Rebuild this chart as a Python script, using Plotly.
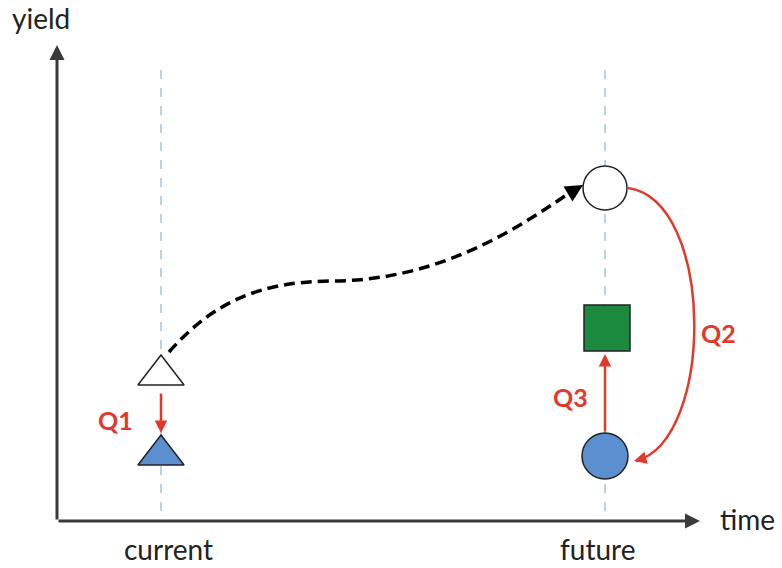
import plotly.graph_objects as go

# Schematic coordinates (pixel-like units; y grows downward)
time_labels = ["current", "future"]
time_pos = [161, 605]
label_pos = [168, 597]

# markers
open_tri = {"x": [161], "y": [375]}
blue_tri = {"x": [161], "y": [455]}
open_circ = {"x": [605], "y": [188]}
green_sq = {"x": [607], "y": [328]}
blue_circ = {"x": [605], "y": [456]}

RED = "#e3392d"
BLUE = "#5b8fd0"
GREEN = "#1b8a3e"
AX = "#3a3a3a"
FONT = "Lato"

fig = go.Figure()

# dashed guide lines
for xp in time_pos:
    fig.add_shape(type="line", x0=xp, x1=xp, y0=70, y1=520,
                  line=dict(color="#8fb3d9", width=1.2, dash="dash"), layer="below")

# dashed black curve
fig.add_shape(type="path",
              path="M 169,352 C 215,300 262,282 330,281 C 430,281 505,238 572,191",
              line=dict(color="black", width=3.5, dash="11px,6px"))
# Q2 arc
fig.add_shape(type="path",
              path="M 628,188 C 715,200 715,440 636,461",
              line=dict(color=RED, width=2.5))

def mk(d, symbol, size, fill, line_col="#222"):
    fig.add_trace(go.Scatter(x=d["x"], y=d["y"], mode="markers",
                             marker=dict(symbol=symbol, size=size, color=fill,
                                         line=dict(color=line_col, width=1.5)),
                             showlegend=False, hoverinfo="skip"))

mk(open_tri, "triangle-up", 40, "white")
mk(blue_tri, "triangle-up", 40, BLUE)
mk(open_circ, "circle", 44, "white")
mk(green_sq, "square", 46, GREEN)
mk(blue_circ, "circle", 46, BLUE)

def arrow(x, y, ax, ay, color, width, head=2, size=1.2):
    fig.add_annotation(x=x, y=y, ax=ax, ay=ay, xref="x", yref="y", axref="x", ayref="y",
                       text="", showarrow=True, arrowhead=head, arrowsize=size,
                       arrowwidth=width, arrowcolor=color, standoff=0, startstandoff=0)

# axes
arrow(700, 521, 57, 521, AX, 3, head=2, size=1.0)
arrow(57, 45, 57, 521, AX, 3, head=2, size=1.0)
# Q arrows
arrow(161, 433, 161, 392, RED, 2.5, head=2, size=1.0)
arrow(605, 354, 605, 433, RED, 2.5, head=2, size=1.0)
arrow(634, 461, 645, 458, RED, 2.5, head=2, size=1.0)
arrow(583, 185, 568, 194, "black", 3.5, head=2, size=1.0)

def txt(x, y, s, color="#222", size=28, bold=False):
    fig.add_annotation(x=x, y=y, xref="x", yref="y", text=f"<b>{s}</b>" if bold else s,
                       showarrow=False, font=dict(family=FONT, size=size, color=color))

txt(41, 18, "yield")
txt(747, 519, "time")
for lab, xp in zip(time_labels, label_pos):
    txt(xp, 549, lab)
txt(115, 420, "Q1", RED, 25, True)
txt(570, 397, "Q3", RED, 25, True)
txt(718, 333, "Q2", RED, 25, True)

fig.update_layout(width=782, height=568, margin=dict(l=0, r=0, t=0, b=0),
                  plot_bgcolor="white", paper_bgcolor="white",
                  xaxis=dict(range=[0, 782], visible=False, fixedrange=True),
                  yaxis=dict(range=[568, 0], visible=False, fixedrange=True))
fig.write_html("out.html", config={"displayModeBar": False},
               post_script="document.body.style.margin='0';document.body.style.overflow='hidden';")
